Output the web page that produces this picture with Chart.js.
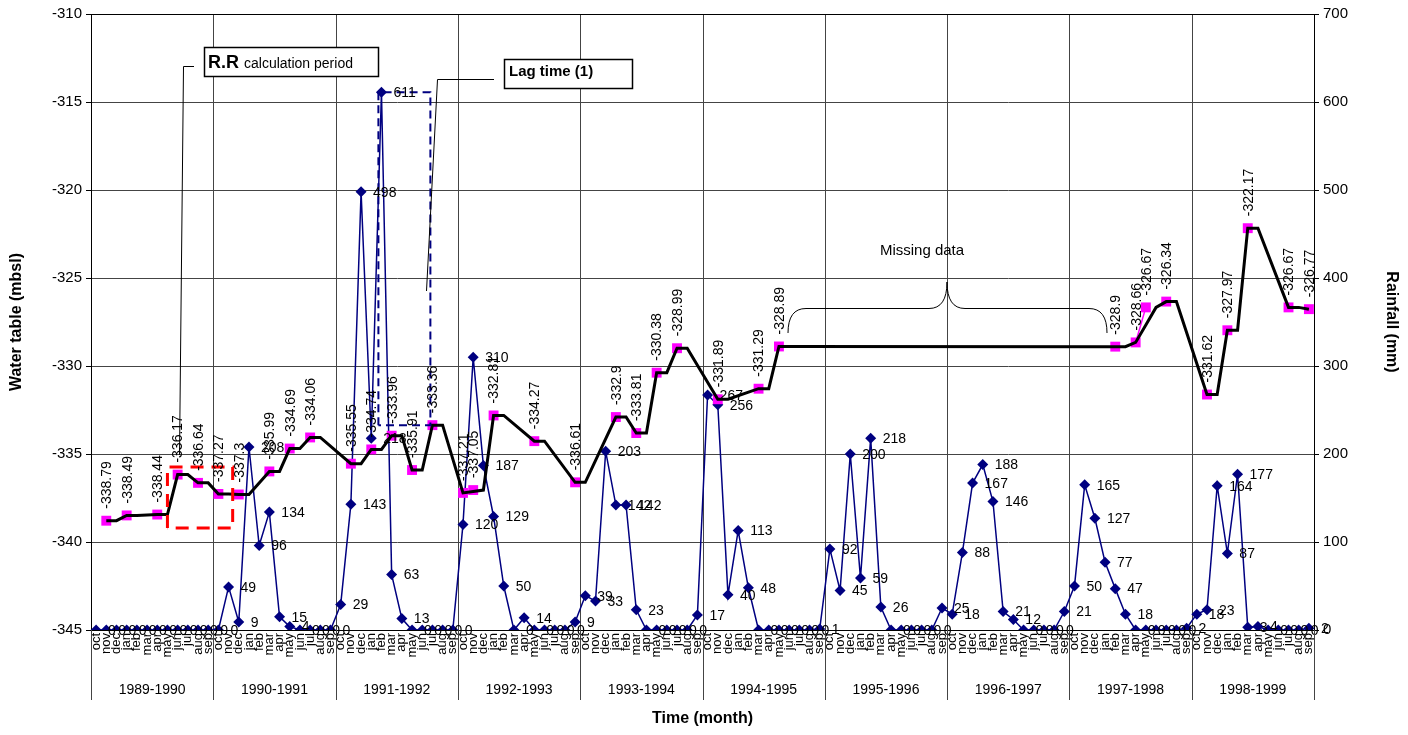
<!DOCTYPE html>
<html>
<head>
<meta charset="utf-8">
<title>Water table and rainfall 1989-1999</title>
<script src="https://cdn.jsdelivr.net/npm/chart.js@4.4.1/dist/chart.umd.min.js"></script>
<style>
  html, body { margin: 0; padding: 0; background: #ffffff; }
  #wrap { width: 1408px; height: 735px; position: relative; }
</style>
</head>
<body>
<div id="wrap"><canvas id="chart" width="1408" height="735"></canvas></div>
<script>
// Hydrological years (October to September) and month names
const hydroYears = ['1989-1990', '1990-1991', '1991-1992', '1992-1993', '1993-1994',
                    '1994-1995', '1995-1996', '1996-1997', '1997-1998', '1998-1999'];
const monthNames = ['oct', 'nov', 'dec', 'jan', 'feb', 'mar', 'apr', 'may', 'jun', 'jul', 'aug', 'sep'];

// Monthly rainfall (mm), one row per hydrological year
const rainfall = [
  0, 0, 0, 0, 0, 0, 0, 0, 0, 0, 0, 0,
  0, 49, 9, 208, 96, 134, 15, 4, 0, 0, 0, 0,
  29, 143, 498, 218, 611, 63, 13, 0, 0, 0, 0, 0,
  120, 310, 187, 129, 50, 0, 14, 0, 0, 0, 0, 9,
  39, 33, 203, 142, 142, 23, 0, 0, 0, 0, 0, 17,
  267, 256, 40, 113, 48, 0, 0, 0, 0, 0, 0, 1,
  92, 45, 200, 59, 218, 26, 0, 0, 0, 0, 0, 25,
  18, 88, 167, 188, 146, 21, 12, 0, 0, 0, 0, 21,
  50, 165, 127, 77, 47, 18, 0, 0, 0, 0, 0, 2,
  18, 23, 164, 87, 177, 3, 4, 0, 0, 0, 0, 2
];

// Water table readings (mbsl): month index (0 = oct 1989) and level
const wtMonth = [1, 3, 6, 8, 10, 12, 14, 17, 19, 21, 25, 27, 29, 31, 33, 36, 37, 39, 43, 47,
                 51, 53, 55, 57, 61, 65, 67, 100, 102, 103, 105, 109, 111, 113, 117, 119];
const wtValue = [-338.79, -338.49, -338.44, -336.17, -336.64, -337.27, -337.3, -335.99, -334.69, -334.06,
                 -335.55, -334.74, -333.96, -335.91, -333.36, -337.21, -337.05, -332.81, -334.27, -336.61,
                 -332.9, -333.81, -330.38, -328.99, -331.89, -331.29, -328.89, -328.9, -328.66, -326.67,
                 -326.34, -331.62, -327.97, -322.17, -326.67, -326.77];

// Smoothed water-table trend line (month index and level)
const trendMonth = [1, 2, 3, 4, 6, 7, 8, 9, 10, 11, 12, 13, 14, 15, 17, 18, 19, 20, 21, 22,
                    25, 26, 27, 28, 29, 30, 31, 32, 33, 34, 36, 37, 38, 39, 40, 43, 44, 47, 48,
                    51, 52, 53, 54, 55, 56, 57, 58, 61, 62, 65, 66, 67, 68,
                    100, 101, 102, 103, 104, 105, 106, 109, 110, 111, 112, 113, 114, 117, 118, 119];
const trendLevel = [-338.79, -338.79, -338.49, -338.49, -338.44, -338.44, -336.17, -336.17, -336.64, -336.64,
                    -337.27, -337.27, -337.3, -337.3, -335.99, -335.99, -334.69, -334.69, -334.06, -334.06,
                    -335.55, -335.55, -334.74, -334.74, -333.96, -333.96, -335.91, -335.91, -333.36, -333.36,
                    -337.21, -337.13, -337.05, -332.81, -332.81, -334.27, -334.27, -336.61, -336.61,
                    -332.9, -332.9, -333.81, -333.81, -330.38, -330.38, -328.99, -328.99, -331.89, -331.89,
                    -331.29, -331.29, -328.89, -328.89,
                    -328.9, -328.9, -328.66, -327.67, -326.67, -326.34, -326.34, -331.62, -331.62,
                    -327.97, -327.97, -322.17, -322.17, -326.67, -326.67, -326.77];

// Axis ranges
const wtAxis = { min: -345, max: -310, step: 5 };
const rainAxis = { min: 0, max: 700, step: 100 };

const FONT = 'Liberation Sans, Arial, sans-serif';

// Build the category labels and the month-indexed series
const categories = [];
hydroYears.forEach(() => monthNames.forEach(m => categories.push(m)));
const wtSeries = categories.map(() => null);
wtMonth.forEach((m, k) => { wtSeries[m] = wtValue[k]; });
const trendSeries = categories.map(() => null);
trendMonth.forEach((m, k) => { trendSeries[m] = trendLevel[k]; });

// Grid, year separators, labels, annotations
const decorations = {
  id: 'decorations',
  beforeDatasetsDraw(chart) {
    const { ctx, chartArea: a } = chart;
    const x = chart.scales.x;
    ctx.save();
    ctx.strokeStyle = '#444';
    ctx.lineWidth = 1;
    for (let k = 1; k < hydroYears.length; k++) {
      const px = Math.round(x.getPixelForValue(k * 12 - 0.5)) + 0.5;
      ctx.beginPath();
      ctx.moveTo(px, a.top);
      ctx.lineTo(px, a.bottom);
      ctx.stroke();
    }
    ctx.strokeStyle = '#000';
    ctx.strokeRect(Math.round(a.left) + 0.5, Math.round(a.top) + 0.5,
                   Math.round(a.right - a.left), Math.round(a.bottom - a.top));
    ctx.restore();
  },
  afterDatasetsDraw(chart) {
    const { ctx } = chart;
    const x = chart.scales.x, yL = chart.scales.yL, yR = chart.scales.yR;
    ctx.save();

    // Red dashed box around the recharge-rate calculation period
    ctx.strokeStyle = '#ff0000';
    ctx.lineWidth = 3;
    ctx.setLineDash([13, 8]);
    {
      const l = x.getPixelForValue(7), r = x.getPixelForValue(13.4);
      const t = yL.getPixelForValue(-335.74), b = yL.getPixelForValue(-339.2);
      ctx.beginPath();
      ctx.moveTo(l, b); ctx.lineTo(l, t); ctx.lineTo(r, t); ctx.lineTo(r, b); ctx.lineTo(l, b);
      ctx.stroke();
    }

    // Blue dashed box spanning the lag between the rainfall peak and the water-table rise
    ctx.strokeStyle = '#000080';
    ctx.lineWidth = 2;
    ctx.setLineDash([8, 5]);
    {
      const l = x.getPixelForValue(27.7), r = x.getPixelForValue(32.8);
      const t = yR.getPixelForValue(611), b = yL.getPixelForValue(-333.36);
      ctx.beginPath();
      ctx.moveTo(l, b); ctx.lineTo(l, t); ctx.lineTo(r, t); ctx.lineTo(r, b); ctx.lineTo(l, b);
      ctx.stroke();
    }
    ctx.setLineDash([]);

    // Rainfall value labels
    ctx.fillStyle = '#000';
    ctx.font = '14px ' + FONT;
    ctx.textAlign = 'left';
    ctx.textBaseline = 'middle';
    const rainMeta = chart.getDatasetMeta(2);
    rainMeta.data.forEach((pt, i) => {
      ctx.fillText(String(rainfall[i]), pt.x + 12, pt.y + 1);
    });

    // Water-table value labels (vertical)
    const wtMeta = chart.getDatasetMeta(1);
    wtMonth.forEach((m, k) => {
      const pt = wtMeta.data[m];
      ctx.save();
      ctx.translate(pt.x + 1, pt.y - 12);
      ctx.rotate(-Math.PI / 2);
      ctx.textAlign = 'left';
      ctx.textBaseline = 'middle';
      ctx.fillText(String(wtValue[k]), 0, 0);
      ctx.restore();
    });

    // Callout boxes and leader lines
    ctx.strokeStyle = '#000';
    ctx.lineWidth = 1;
    ctx.beginPath();
    ctx.moveTo(194, 66.5); ctx.lineTo(183.5, 66.5); ctx.lineTo(179.5, 455);
    ctx.moveTo(494, 79.5); ctx.lineTo(437.5, 79.5); ctx.lineTo(426.5, 291);
    ctx.stroke();

    ctx.lineWidth = 1.5;
    ctx.fillStyle = '#fff';
    ctx.fillRect(204, 47, 174, 29);
    ctx.strokeRect(204.5, 47.5, 174, 29);
    ctx.fillRect(504, 59, 128, 29);
    ctx.strokeRect(504.5, 59.5, 128, 29);

    ctx.fillStyle = '#000';
    ctx.textBaseline = 'alphabetic';
    ctx.textAlign = 'left';
    ctx.font = 'bold 18px ' + FONT;
    ctx.fillText('R.R', 208, 67.5);
    const rrW = ctx.measureText('R.R').width;
    ctx.font = '14px ' + FONT;
    ctx.fillText('calculation period', 208 + rrW + 5, 67.5);
    ctx.font = 'bold 15px ' + FONT;
    ctx.fillText('Lag time (1)', 509, 76);

    // Missing-data brace
    ctx.lineWidth = 1;
    ctx.beginPath();
    ctx.moveTo(788, 333);
    ctx.quadraticCurveTo(788, 308.5, 806, 308.5);
    ctx.lineTo(929, 308.5);
    ctx.quadraticCurveTo(947, 308.5, 947, 282);
    ctx.quadraticCurveTo(947, 308.5, 965, 308.5);
    ctx.lineTo(1089, 308.5);
    ctx.quadraticCurveTo(1107, 308.5, 1107, 333);
    ctx.stroke();
    ctx.font = '15px ' + FONT;
    ctx.textAlign = 'center';
    ctx.textBaseline = 'middle';
    ctx.fillText('Missing data', 922, 251);

    ctx.restore();
  },
  afterDraw(chart) {
    const { ctx, chartArea: a } = chart;
    const x = chart.scales.x;
    ctx.save();
    ctx.fillStyle = '#000';

    // Month labels (vertical)
    ctx.font = '13px ' + FONT;
    categories.forEach((lab, i) => {
      const px = x.getPixelForValue(i);
      ctx.save();
      ctx.translate(px, a.bottom + 3);
      ctx.rotate(-Math.PI / 2);
      ctx.textAlign = 'right';
      ctx.textBaseline = 'middle';
      ctx.fillText(lab, 0, 0);
      ctx.restore();
    });

    // Year separators and year labels
    ctx.strokeStyle = '#444';
    ctx.lineWidth = 1;
    for (let k = 0; k <= hydroYears.length; k++) {
      const px = Math.round(x.getPixelForValue(k * 12 - 0.5)) + 0.5;
      ctx.beginPath();
      ctx.moveTo(px, a.bottom);
      ctx.lineTo(px, a.bottom + 70);
      ctx.stroke();
    }
    ctx.font = '14px ' + FONT;
    ctx.textAlign = 'center';
    ctx.textBaseline = 'middle';
    hydroYears.forEach((yr, k) => {
      const cx = (x.getPixelForValue(k * 12 - 0.5) + x.getPixelForValue(k * 12 + 11.5)) / 2;
      ctx.fillText(yr, cx, a.bottom + 60);
    });

    // Axis titles
    ctx.font = 'bold 16px ' + FONT;
    ctx.fillText('Time (month)', (a.left + a.right) / 2, 719);
    const cy = (a.top + a.bottom) / 2;
    ctx.save();
    ctx.translate(17, cy);
    ctx.rotate(-Math.PI / 2);
    ctx.fillText('Water table (mbsl)', 0, 0);
    ctx.restore();
    ctx.save();
    ctx.translate(1391, cy);
    ctx.rotate(Math.PI / 2);
    ctx.fillText('Rainfall (mm)', 0, 0);
    ctx.restore();

    ctx.restore();
  }
};

new Chart(document.getElementById('chart'), {
  type: 'line',
  data: {
    labels: categories,
    datasets: [
      {
        label: 'Trend',
        data: trendSeries,
        yAxisID: 'yL',
        borderColor: '#000000',
        borderWidth: 3,
        pointRadius: 0,
        spanGaps: true,
        tension: 0
      },
      {
        label: 'Water table',
        data: wtSeries,
        yAxisID: 'yL',
        borderColor: '#ff00ff',
        backgroundColor: '#ff00ff',
        borderWidth: 1.5,
        pointStyle: 'rect',
        pointRadius: 7,
        pointBorderWidth: 0,
        spanGaps: false,
        tension: 0
      },
      {
        label: 'Rainfall',
        data: rainfall,
        yAxisID: 'yR',
        borderColor: '#000080',
        backgroundColor: '#000080',
        borderWidth: 1.5,
        pointStyle: 'rectRot',
        pointRadius: 5.5,
        pointBorderWidth: 0,
        tension: 0
      }
    ]
  },
  options: {
    responsive: false,
    animation: false,
    devicePixelRatio: 1,
    layout: { padding: { top: 14, left: 0, right: 0, bottom: 0 } },
    plugins: { legend: { display: false }, tooltip: { enabled: false } },
    scales: {
      x: {
        type: 'category',
        offset: true,
        grid: { display: false },
        border: { display: false },
        ticks: { display: false },
        afterFit(s) { s.height = 105; }
      },
      yL: {
        position: 'left',
        min: wtAxis.min,
        max: wtAxis.max,
        ticks: { stepSize: wtAxis.step, color: '#000', font: { family: FONT, size: 15 }, padding: 4 },
        grid: { color: '#444', lineWidth: 1, tickLength: 5, tickColor: '#000' },
        border: { color: '#000', width: 1 },
        afterFit(s) { s.width = 91; }
      },
      yR: {
        position: 'right',
        min: rainAxis.min,
        max: rainAxis.max,
        ticks: { stepSize: rainAxis.step, color: '#000', font: { family: FONT, size: 15 }, padding: 4 },
        grid: { drawOnChartArea: false, tickLength: 5, tickColor: '#000' },
        border: { color: '#000', width: 1 },
        afterFit(s) { s.width = 94; }
      }
    }
  },
  plugins: [decorations]
});
</script>
</body>
</html>
